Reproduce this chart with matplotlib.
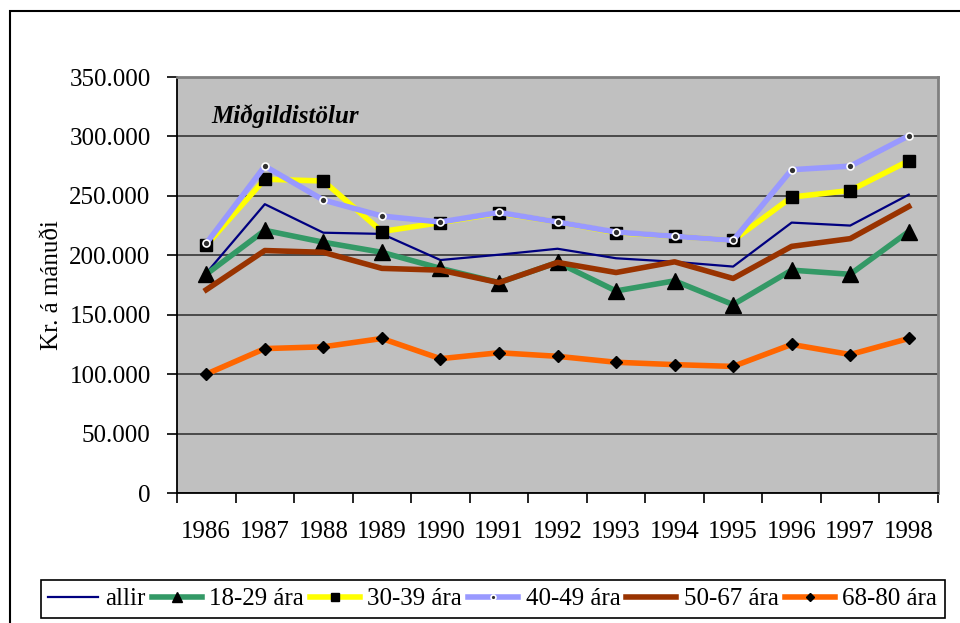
import matplotlib.pyplot as plt
from matplotlib.patches import Rectangle
from matplotlib.ticker import FuncFormatter
import numpy as np

# --- data
years = ['1986', '1987', '1988', '1989', '1990', '1991', '1992',
         '1993', '1994', '1995', '1996', '1997', '1998']
allir = [185000, 243000, 219000, 218000, 196000, 200500, 205500,
         197500, 194500, 190500, 227500, 225000, 251000]
a18_29 = [184000, 221000, 211000, 202500, 189000, 177000, 194000,
          170000, 178500, 158500, 187500, 184000, 220000]
a30_39 = [208500, 264000, 262500, 220000, 227500, 235500, 228000,
          219000, 216000, 212500, 249000, 254500, 279500]
a40_49 = [210000, 275000, 246500, 233000, 228000, 236000, 228000,
          219500, 216000, 212500, 272000, 275000, 300500]
a50_67 = [171000, 204000, 202500, 189000, 187500, 177000, 194000,
          185500, 194500, 180500, 207500, 214000, 241000]
a68_80 = [100000, 121500, 123000, 130000, 113000, 118000, 115000,
          110000, 108000, 106500, 125000, 116500, 130000]
labels = ['allir', '18-29 ára', '30-39 ára', '40-49 ára', '50-67 ára', '68-80 ára']

plt.rcParams['font.family'] = ['Liberation Serif', 'DejaVu Serif']

W, H = 960, 623
fig = plt.figure(figsize=(W / 100, H / 100), dpi=100)
ax = fig.add_axes([177 / W, 1 - 493 / H, 761 / W, 416 / H])
ax.set_facecolor('#C0C0C0')

x = np.arange(len(years))
ax.plot(x, allir, color='#000080', lw=1.6, label=labels[0], zorder=3)
ax.plot(x, a18_29, color='#339966', lw=4, marker='^', ms=11,
        mfc='black', mec='black', label=labels[1], zorder=3)
ax.plot(x, a30_39, color='#FFFF00', lw=4, marker='s', ms=9,
        mfc='black', mec='black', label=labels[2], zorder=3)
ax.plot(x, a40_49, color='#9999FF', lw=4, marker='o', ms=5, mew=1.2,
        mfc='#303030', mec='white', label=labels[3], zorder=3)
ax.plot(x, a50_67, color='#993300', lw=4, label=labels[4], zorder=3)
ax.plot(x, a68_80, color='#FF6600', lw=4, marker='D', ms=6,
        mfc='black', mec='black', label=labels[5], zorder=3)

# --- axes
ax.set_xlim(-0.5, len(years) - 0.5)
ax.set_ylim(0, 350000)
ax.set_yticks(np.arange(0, 350001, 50000))
ax.yaxis.set_major_formatter(FuncFormatter(
    lambda v, p: '0' if v == 0 else '{:,.0f}'.format(v).replace(',', '.')))
ax.grid(axis='y', color='#404040', lw=1.3, zorder=1)
ax.set_axisbelow(True)

ax.set_xticks(x)
ax.set_xticklabels(years)
ax.set_xticks(np.arange(-0.5, len(years), 1.0), minor=True)
ax.tick_params(axis='x', which='major', length=0, pad=20, labelsize=18)
ax.tick_params(axis='x', which='minor', length=7, width=1.2, direction='out')
ax.tick_params(axis='y', length=7, width=1.2, pad=12, labelsize=18)

for s in ['left', 'bottom']:
    ax.spines[s].set_color('black')
    ax.spines[s].set_linewidth(1.3)
for s in ['top', 'right']:
    ax.spines[s].set_color('#808080')
    ax.spines[s].set_linewidth(2)

ax.text(211 / W, 1 - 116 / H, 'Miðgildistölur', transform=fig.transFigure,
        fontsize=18, fontweight='bold', fontstyle='italic', va='center', ha='left')
fig.text(52 / W, 1 - 285 / H, 'Kr. á mánuði', rotation=90, fontsize=18,
         va='center', ha='center')

# outer chart frame (runs off the right and bottom edges)
fig.patches.append(Rectangle((10 / W, -0.1), 1.2, 1 - 11 / H + 0.1,
                             transform=fig.transFigure, fill=False,
                             edgecolor='black', lw=1.5))

# --- legend
leg = fig.legend(loc='center', ncol=6, mode='expand',
                 bbox_to_anchor=(28 / W, 1 - 623 / H, 929 / W, 48 / H),
                 fontsize=18, handlelength=2.0, handletextpad=0.3,
                 columnspacing=0.4, borderpad=0.3, fancybox=False,
                 framealpha=1, edgecolor='black', markerscale=0.7)
leg.get_frame().set_linewidth(1.2)

fig.savefig('out.png', dpi=100)
